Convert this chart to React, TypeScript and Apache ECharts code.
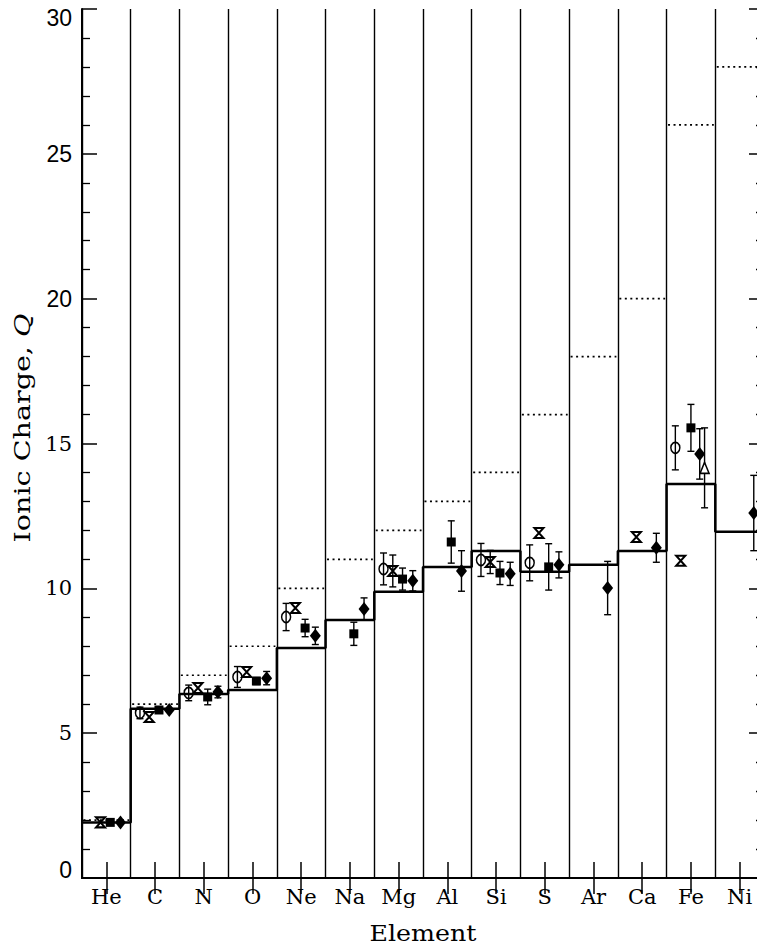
import React, { useEffect, useRef } from "react";
import * as echarts from "echarts";

// ---------- data ----------
const ELEMENTS = ["He", "C", "N", "O", "Ne", "Na", "Mg", "Al", "Si", "S", "Ar", "Ca", "Fe", "Ni"];
// atomic number Z (dotted lines)
const ATOMIC_Z = [2, 6, 7, 8, 10, 11, 12, 13, 14, 16, 18, 20, 26, 28];
// mean equilibrium charge (solid step line)
const MEAN_Q = [1.92, 5.84, 6.35, 6.49, 7.94, 8.91, 9.88, 10.74, 11.29, 10.57, 10.81, 11.29, 13.6, 11.95];

const Y_MIN = 0;
const Y_MAX = 30;
const Y_STEP = 5;
const SANS_TICK_LABELS = [0, 20, 25, 30];

// [element, Q, error]
const CIRCLE_PTS: [string, number, number][] = [
  ["C", 5.7, 0.2], ["N", 6.39, 0.27], ["O", 6.94, 0.36], ["Ne", 9.01, 0.47],
  ["Mg", 10.67, 0.55], ["Si", 10.98, 0.57], ["S", 10.88, 0.62], ["Fe", 14.85, 0.76],
];
const HOURGLASS_PTS: [string, number, number][] = [
  ["He", 1.92, 0], ["C", 5.56, 0], ["N", 6.56, 0], ["O", 7.11, 0], ["Ne", 9.32, 0],
  ["Mg", 10.6, 0.55], ["Si", 10.91, 0.4], ["S", 11.91, 0], ["Ca", 11.77, 0], ["Fe", 10.95, 0],
];
const SQUARE_PTS: [string, number, number][] = [
  ["He", 1.92, 0], ["C", 5.8, 0], ["N", 6.25, 0.27], ["O", 6.8, 0.12], ["Ne", 8.63, 0.3],
  ["Na", 8.43, 0.4], ["Mg", 10.32, 0.38], ["Al", 11.6, 0.73], ["Si", 10.53, 0.4],
  ["S", 10.74, 0.8], ["Fe", 15.54, 0.81],
];
const DIAMOND_PTS: [string, number, number][] = [
  ["He", 1.92, 0], ["C", 5.8, 0], ["N", 6.42, 0.2], ["O", 6.9, 0.23], ["Ne", 8.36, 0.3],
  ["Na", 9.29, 0.38], ["Mg", 10.26, 0.35], ["Al", 10.6, 0.7], ["Si", 10.5, 0.4],
  ["S", 10.81, 0.45], ["Ar", 10.01, 0.92], ["Ca", 11.4, 0.5], ["Fe", 14.64, 0.87],
  ["Ni", 12.6, 1.3],
];
const TRIANGLE_PTS: [string, number, number][] = [["Fe", 14.16, 1.38]];

// ---------- layout / style ----------
const OFFSETS: Record<string, number> = { circle: -0.31, hourglass: -0.12, square: 0.08, diamond: 0.29, triangle: 0.28 };
const FE_OFFSETS: Record<string, number> = { circle: -0.32, hourglass: -0.21, square: 0.0, diamond: 0.18, triangle: 0.28 };

const SERIF = "DejaVu Serif";
const SANS = "Liberation Sans";

function place(kind: string, pts: [string, number, number][]) {
  return pts.map(([el, q, e]) => {
    const i = ELEMENTS.indexOf(el);
    const off = el === "Fe" ? FE_OFFSETS[kind] : OFFSETS[kind];
    return [i + 0.5 + off, q, e];
  });
}

const placed = {
  circle: place("circle", CIRCLE_PTS),
  hourglass: place("hourglass", HOURGLASS_PTS),
  square: place("square", SQUARE_PTS),
  diamond: place("diamond", DIAMOND_PTS),
  triangle: place("triangle", TRIANGLE_PTS),
};

const errData = Object.values(placed).flat().filter((d) => d[2] > 0);

const stepData: number[][] = [];
MEAN_Q.forEach((q, i) => {
  stepData.push([i, q]);
  stepData.push([i + 1, q]);
});

const black = "#000";

function buildOption(): any {
  const tickCat = {
    show: true,
    inside: true,
    alignWithLabel: true,
    interval: 0,
    length: 16,
    lineStyle: { color: black, width: 1.5 },
  };
  const yCommon = {
    type: "value",
    min: Y_MIN,
    max: Y_MAX,
    interval: Y_STEP,
    axisLine: { show: true, lineStyle: { color: black, width: 2 } },
    axisTick: { show: true, inside: true, length: 15, lineStyle: { color: black, width: 1.5 } },
    minorTick: { show: true, splitNumber: 5, length: 8, lineStyle: { color: black, width: 1.3 } },
    splitLine: { show: false },
    minorSplitLine: { show: false },
  };
  return {
    animation: false,
    backgroundColor: "#fff",
    grid: { left: 82, top: 9, width: 682, height: 869, containLabel: false },
    xAxis: [
      {
        type: "category",
        data: ELEMENTS,
        position: "bottom",
        boundaryGap: true,
        axisLine: { show: true, lineStyle: { color: black, width: 2 } },
        axisTick: tickCat,
        axisLabel: { interval: 0, fontFamily: SERIF, fontSize: 21, color: black, margin: 8 },
        splitLine: { show: false },
      },
      {
        type: "category",
        data: ELEMENTS,
        position: "top",
        boundaryGap: true,
        axisLine: { show: true, lineStyle: { color: black, width: 2 } },
        axisTick: tickCat,
        axisLabel: { show: false },
        splitLine: { show: false },
      },
      {
        type: "value",
        min: 0,
        max: ELEMENTS.length,
        interval: 1,
        position: "bottom",
        axisLine: { show: false },
        axisTick: { show: false },
        axisLabel: { show: false },
        splitLine: { show: true, lineStyle: { color: black, width: 1.4 } },
      },
    ],
    yAxis: [
      {
        ...yCommon,
        position: "left",
        axisLabel: {
          margin: 10,
          formatter: (v: number) => {
            const key = SANS_TICK_LABELS.includes(v) ? (v === Y_MAX ? "top" : v === Y_MIN ? "bot" : "s") : "m";
            return `{${key}|${v}}`;
          },
          rich: {
            s: { fontFamily: SANS, fontSize: 23, color: black },
            top: { fontFamily: SANS, fontSize: 23, color: black, padding: [18, 0, 0, 0] },
            bot: { fontFamily: SANS, fontSize: 23, color: black, padding: [0, 0, 16, 0] },
            m: { fontFamily: SERIF, fontSize: 21, color: black },
          },
        },
      },
      { ...yCommon, position: "right", axisLabel: { show: false } },
    ],
    graphic: [
      {
        type: "text",
        x: 22,
        y: 428,
        rotation: Math.PI / 2,
        scaleX: 1.3,
        style: {
          text: "{n|Ionic Charge, }{q|Q}",
          align: "center",
          verticalAlign: "middle",
          rich: {
            n: { fontFamily: SERIF, fontSize: 22, fill: black },
            q: { fontFamily: SERIF, fontStyle: "italic", fontSize: 22, fill: black },
          },
        },
      },
      {
        type: "text",
        x: 423,
        y: 934,
        scaleX: 1.15,
        style: { text: "Element", fontFamily: SERIF, fontSize: 22, fill: black, align: "center", verticalAlign: "middle" },
      },
    ],
    series: [
      {
        type: "custom",
        name: "Z",
        xAxisIndex: 2,
        yAxisIndex: 0,
        data: ATOMIC_Z.map((z, i) => [i, z]),
        renderItem: (params: any, api: any) => {
          const i = api.value(0);
          const z = api.value(1);
          const a = api.coord([i + 0.03, z]);
          const b = api.coord([i + 0.97, z]);
          return {
            type: "line",
            shape: { x1: a[0], y1: a[1], x2: b[0], y2: b[1] },
            style: { stroke: black, lineWidth: 1.7, lineDash: [2, 3.5] },
          };
        },
        z: 2,
      },
      {
        type: "line",
        name: "mean",
        xAxisIndex: 2,
        yAxisIndex: 0,
        data: stepData,
        symbol: "none",
        lineStyle: { color: black, width: 2.5 },
        z: 3,
      },
      {
        type: "custom",
        name: "err",
        xAxisIndex: 2,
        yAxisIndex: 0,
        data: errData,
        renderItem: (params: any, api: any) => {
          const x = api.value(0);
          const q = api.value(1);
          const e = api.value(2);
          const t = api.coord([x, q + e]);
          const b = api.coord([x, q - e]);
          const w = 3.5;
          const st = { stroke: black, lineWidth: 1.4 };
          return {
            type: "group",
            children: [
              { type: "line", shape: { x1: t[0], y1: t[1], x2: b[0], y2: b[1] }, style: st },
              { type: "line", shape: { x1: t[0] - w, y1: t[1], x2: t[0] + w, y2: t[1] }, style: st },
              { type: "line", shape: { x1: b[0] - w, y1: b[1], x2: b[0] + w, y2: b[1] }, style: st },
            ],
          };
        },
        z: 4,
      },
      {
        type: "scatter",
        name: "circle",
        xAxisIndex: 2,
        yAxisIndex: 0,
        data: placed.circle.map((d) => [d[0], d[1]]),
        symbol: "circle",
        symbolSize: [9, 11],
        itemStyle: { color: "rgba(0,0,0,0)", borderColor: black, borderWidth: 1.6, opacity: 1 },
        z: 5,
      },
      {
        type: "scatter",
        name: "hourglass",
        xAxisIndex: 2,
        yAxisIndex: 0,
        data: placed.hourglass.map((d) => [d[0], d[1]]),
        symbol: "path://M0,0L10,0L0,10L10,10Z",
        symbolSize: [9, 10],
        itemStyle: { color: "rgba(0,0,0,0)", borderColor: black, borderWidth: 2, opacity: 1 },
        z: 5,
      },
      {
        type: "scatter",
        name: "square",
        xAxisIndex: 2,
        yAxisIndex: 0,
        data: placed.square.map((d) => [d[0], d[1]]),
        symbol: "rect",
        symbolSize: 9,
        itemStyle: { color: black, opacity: 1 },
        z: 5,
      },
      {
        type: "scatter",
        name: "diamond",
        xAxisIndex: 2,
        yAxisIndex: 0,
        data: placed.diamond.map((d) => [d[0], d[1]]),
        symbol: "diamond",
        symbolSize: [11, 14],
        itemStyle: { color: black, opacity: 1 },
        z: 5,
      },
      {
        type: "scatter",
        name: "triangle",
        xAxisIndex: 2,
        yAxisIndex: 0,
        data: placed.triangle.map((d) => [d[0], d[1]]),
        symbol: "triangle",
        symbolSize: [9, 11],
        itemStyle: { color: "#fff", borderColor: black, borderWidth: 1.6, opacity: 1 },
        z: 5,
      },
    ],
  };
}

export default function App() {
  const ref = useRef<HTMLDivElement>(null);
  useEffect(() => {
    if (!ref.current) return;
    const chart = echarts.init(ref.current, undefined, { renderer: "svg" });
    chart.setOption(buildOption());
    return () => chart.dispose();
  }, []);
  return (
    <div
      style={{
        position: "fixed",
        left: 0,
        top: 0,
        width: 757,
        height: 949,
        overflow: "hidden",
        background: "#fff",
      }}
    >
      <div ref={ref} style={{ width: 800, height: 949 }} />
    </div>
  );
}
